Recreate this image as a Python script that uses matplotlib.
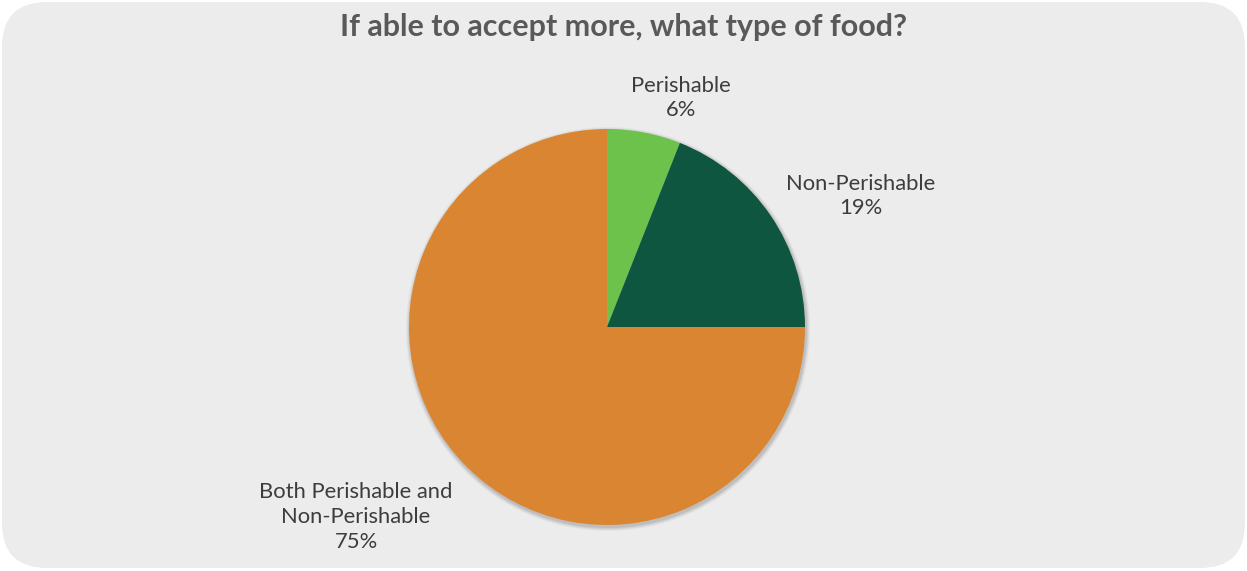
import matplotlib.pyplot as plt
from matplotlib.patches import FancyBboxPatch, Circle

# food type shares (percent)
categories = ["Perishable", "Non-Perishable", "Both Perishable and\nNon-Perishable"]
shares = [6, 19, 75]
colors = ["#6cc24a", "#0f5640", "#d98532"]
title = "If able to accept more, what type of food?"

W, H = 1247, 571
fig = plt.figure(figsize=(W / 100, H / 100), dpi=100)
fig.patch.set_facecolor("white")
ax = fig.add_axes([0, 0, 1, 1])

# rounded grey card behind everything
card = FancyBboxPatch((2 + 45, 3 + 45), 1243 - 90, 566 - 90,
                      boxstyle="round,pad=45", facecolor="#ececec",
                      edgecolor="none", zorder=0)
ax.add_patch(card)

cx, cy, r = 607, H - 327, 198

# soft drop shadow under the pie
for i, a in enumerate([0.05, 0.07, 0.09, 0.12]):
    ax.add_patch(Circle((cx + 1, cy - 2), r + 4 - i, facecolor="#555555",
                        edgecolor="none", alpha=a, zorder=1))

ax.pie(shares, colors=colors, startangle=90, counterclock=False,
       center=(cx, cy), radius=r, frame=True,
       wedgeprops=dict(edgecolor="none", zorder=2))
ax.set_xlim(0, W)
ax.set_ylim(0, H)
ax.set_aspect("equal")
ax.axis("off")

ax.text(624, H - 27, title, ha="center", va="center", fontsize=22,
        fontweight="bold", color="#595959", family="Lato")

label_pos = [(681, 98), (861, 196), (356, 517)]
for name, val, (lx, ly) in zip(categories, shares, label_pos):
    ax.text(lx, H - ly, f"{name}\n{val}%", ha="center", va="center",
            fontsize=15.8, color="#3d3d3d", family="Lato", linespacing=1.3)

fig.savefig("out.png", dpi=100)
